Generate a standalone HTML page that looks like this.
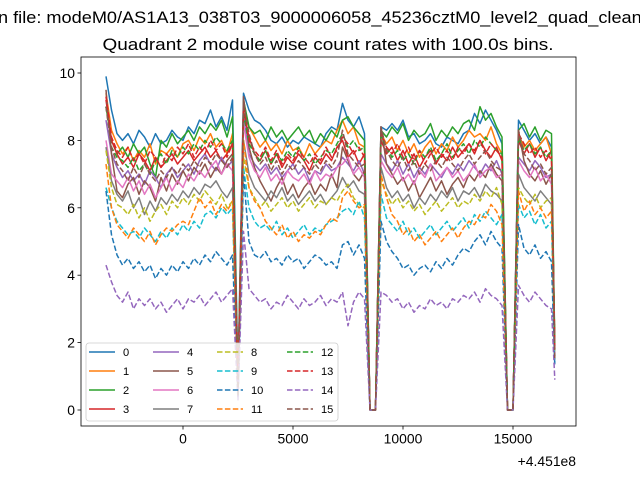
<!DOCTYPE html>
<html><head><meta charset="utf-8"><style>
html,body{margin:0;padding:0;background:#fff;}
svg{display:block;font-family:"Liberation Sans","DejaVu Sans",sans-serif;}
</style></head><body>
<svg id="chart" width="640" height="480" viewBox="0 0 640 480" xmlns="http://www.w3.org/2000/svg">
<rect width="640" height="480" fill="#fff"/>
<text x="-2" y="23" font-size="16.7" fill="#000" textLength="673" lengthAdjust="spacingAndGlyphs">n file: modeM0/AS1A13_038T03_9000006058_45236cztM0_level2_quad_clean.evt</text>
<text x="328" y="50" font-size="16.7" text-anchor="middle" fill="#000" textLength="451" lengthAdjust="spacingAndGlyphs">Quadrant 2 module wise count rates with 100.0s bins.</text>
<g id="plot"></g>
<g id="axes"></g>
<g id="legend"></g>
</svg>
<script>
const xTicks=[0,5000,10000,15000];
const xTickLabels=["0","5000","10000","15000"];
const yTicks=[0,2,4,6,8,10];
const yTickLabels=["0","2","4","6","8","10"];
const offsetLabel="+4.451e8";
const seriesNames=["0","1","2","3","4","5","6","7","8","9","10","11","12","13","14","15"];
const s0=[9.9,8.9,8.2,8.0,8.2,7.9,8.3,8.1,7.8,8.2,7.9,8.0,8.3,8.1,8.0,8.4,8.2,8.6,8.5,8.9,8.4,8.7,8.3,9.2,1.0,9.4,8.9,8.6,8.5,8.3,8.0,7.9,8.1,7.8,8.0,7.9,8.1,8.0,7.9,7.8,8.2,8.4,8.3,9.1,8.6,8.4,8.7,8.2,0,0,8.4,8.3,8.5,8.3,8.6,8.1,8.2,7.9,8.0,8.2,7.9,7.8,8.1,8.0,7.9,8.2,8.3,8.8,8.5,8.9,8.6,8.3,7.9,0,0,8.6,8.3,8.0,8.2,7.9,8.1,7.8,1.6];
const s1=[9.4,8.3,7.9,7.6,7.8,7.4,7.7,7.5,7.9,7.3,7.7,7.6,7.8,7.5,7.9,8.0,7.7,8.1,7.9,8.2,7.8,8.0,7.6,8.2,0.8,9.0,8.4,8.1,7.8,8.0,7.7,7.9,7.6,8.0,7.7,7.8,7.5,7.9,7.6,7.8,8.0,7.9,8.3,8.6,8.2,8.4,7.9,7.8,0,0,8.2,7.9,8.1,7.7,8.0,7.6,7.9,7.5,7.8,8.0,7.6,7.9,7.7,8.1,7.8,8.0,8.3,8.1,8.2,8.0,8.4,7.9,7.6,0,0,8.2,7.8,8.0,7.7,7.9,8.1,7.6,1.8];
const s2=[9.0,8.0,7.6,7.8,7.5,7.9,7.6,7.8,7.3,6.9,8.0,7.8,8.2,7.9,8.1,8.3,8.0,8.4,8.2,8.5,8.3,8.6,8.1,8.7,0.7,9.2,8.4,8.2,8.3,8.0,8.4,8.1,8.3,8.0,8.2,8.4,8.1,8.3,7.9,8.2,8.0,8.3,8.1,8.6,8.7,8.4,8.2,8.0,0,0,8.3,8.1,8.4,8.2,8.5,8.0,8.3,8.1,8.2,8.5,8.0,8.3,8.1,8.4,8.2,8.5,8.6,8.3,9.0,8.6,8.8,8.4,8.1,0,0,8.3,8.5,8.1,8.4,8.0,8.3,8.2,1.9];
const s3=[9.2,8.0,7.6,7.3,7.5,7.2,7.6,7.4,7.1,7.5,7.2,7.4,7.6,7.3,7.5,7.7,7.4,7.6,7.8,7.5,7.7,7.4,7.6,7.9,0.6,8.8,8.1,7.6,7.4,7.7,7.3,7.6,7.2,7.5,7.3,7.6,7.4,7.1,7.5,7.3,7.6,7.4,7.8,8.0,7.5,7.7,7.3,7.6,0,0,8.0,7.6,7.8,7.4,7.7,7.3,7.6,7.2,7.5,7.7,7.3,7.6,7.4,7.8,7.5,7.7,7.9,7.6,8.0,7.7,7.5,7.8,7.4,0,0,8.0,7.6,7.9,7.5,7.8,7.4,7.7,1.7];
const s4=[8.6,7.6,7.2,6.9,7.1,6.8,7.0,6.7,7.1,6.9,6.6,7.0,7.2,6.9,7.1,7.3,7.0,7.4,7.6,7.3,7.1,7.5,7.2,7.4,0.5,8.7,7.6,7.3,7.1,7.3,7.0,7.2,6.9,7.1,7.3,7.0,7.2,6.8,7.1,7.0,7.3,7.1,7.2,7.5,7.3,7.1,7.4,7.0,0,0,7.6,7.3,7.1,7.4,7.0,7.3,6.9,7.2,7.0,7.3,7.1,6.9,7.2,7.0,7.3,7.1,7.4,7.2,7.0,7.3,7.1,7.4,7.0,0,0,7.5,7.3,7.1,7.4,7.2,6.9,7.0,1.6];
const s5=[9.5,7.6,6.5,6.3,6.7,6.9,6.4,6.8,6.6,6.2,6.9,6.5,7.0,6.7,7.1,6.8,7.2,7.0,7.3,6.9,7.2,7.0,7.4,7.6,0.4,9.3,7.8,7.2,6.8,6.5,6.2,6.6,6.9,6.4,6.7,6.3,6.6,6.8,6.4,6.7,6.5,7.0,6.6,7.8,7.4,7.0,6.8,7.1,0,0,8.4,7.3,7.0,6.7,6.9,6.5,6.8,6.3,6.6,6.9,6.5,6.8,6.4,6.7,6.9,6.6,7.0,6.8,7.1,6.9,7.3,7.0,6.8,0,0,8.3,7.4,7.0,6.8,7.1,6.7,7.0,1.5];
const s6=[8.0,7.0,6.8,6.6,6.9,6.5,6.8,6.4,6.7,6.3,6.6,6.9,6.5,6.8,6.6,7.0,6.8,7.1,6.9,7.2,7.4,7.0,7.3,7.1,0.6,8.5,7.5,7.1,6.9,7.2,6.8,7.0,6.7,7.1,6.9,6.8,7.0,6.7,7.1,6.8,7.0,6.9,7.2,7.3,7.5,7.0,7.2,6.9,0,0,7.4,7.1,6.9,7.2,6.8,7.0,6.7,7.1,6.9,7.3,6.8,7.0,7.2,6.9,7.1,6.8,7.0,7.3,6.9,7.1,7.2,6.9,7.0,0,0,7.4,7.1,6.9,7.2,6.8,7.0,6.7,1.7];
const s7=[7.8,6.8,6.4,6.2,6.5,6.0,6.3,5.8,6.2,5.9,6.3,6.1,6.4,6.2,6.5,6.3,6.6,6.4,6.7,6.6,6.8,6.5,6.3,6.6,0.5,8.0,7.0,6.6,6.4,6.2,6.5,6.3,6.6,6.2,6.4,6.1,6.3,6.5,6.2,6.4,6.1,6.3,6.5,6.9,6.6,6.8,6.5,6.4,0,0,7.2,6.6,6.3,6.5,6.2,6.4,6.0,6.3,6.1,6.4,6.2,6.5,6.3,6.6,6.2,6.5,6.4,6.6,6.3,6.7,6.5,6.4,6.2,0,0,7.0,6.6,6.4,6.2,6.5,6.3,6.1,1.8];
const s8=[7.7,6.6,6.1,6.0,5.8,6.1,5.7,6.0,5.6,5.9,6.1,5.8,6.2,6.0,6.3,6.1,6.4,6.2,6.5,6.3,6.1,6.4,6.0,6.2,0.5,7.5,6.6,6.3,6.0,6.2,5.9,6.1,6.3,6.0,6.2,5.9,6.1,6.3,6.0,6.2,6.1,6.3,6.2,6.5,6.7,6.3,6.1,6.0,0,0,6.8,6.4,6.1,6.3,6.0,6.2,5.9,6.1,5.8,6.0,6.2,5.9,6.1,6.3,6.0,6.2,6.1,6.4,6.2,6.5,6.3,6.6,6.1,0,0,6.6,6.3,6.1,6.4,6.0,6.2,6.3,1.6];
const s9=[6.6,6.0,5.6,5.4,5.2,5.3,5.1,5.4,5.2,5.0,5.3,5.1,5.4,5.2,5.5,5.3,5.6,5.4,5.8,5.9,5.7,6.0,5.8,6.0,0.4,7.2,6.0,5.6,5.4,5.5,5.3,5.6,5.2,5.4,5.1,5.3,5.5,5.2,5.4,5.3,5.5,5.6,5.7,5.9,6.0,5.8,6.2,5.7,0,0,6.4,5.7,5.5,5.3,5.6,5.2,5.4,5.1,5.3,5.5,5.2,5.4,5.6,5.3,5.5,5.7,5.4,5.8,5.6,5.9,5.7,5.5,5.8,0,0,6.1,5.7,5.9,5.5,5.8,5.4,5.6,1.4];
const s10=[6.5,5.2,4.6,4.3,4.5,4.2,4.4,4.1,4.3,3.9,4.2,4.0,4.3,4.1,4.4,4.2,4.5,4.3,4.6,4.4,4.7,4.5,4.3,4.6,0.4,7.0,5.0,4.6,4.5,4.7,4.4,4.5,4.3,4.6,4.4,4.5,4.2,4.4,4.6,4.5,4.3,4.4,4.2,4.9,5.0,4.6,4.9,4.5,0,0,5.6,5.0,4.7,4.5,4.2,4.3,4.0,4.2,4.3,4.1,4.4,4.2,4.5,4.3,4.6,4.8,4.7,5.0,5.2,4.9,5.3,5.0,4.8,0,0,5.5,4.8,4.6,4.9,4.5,4.7,4.4,1.3];
const s11=[7.3,6.0,5.5,5.3,5.1,5.4,5.2,5.0,5.3,4.9,5.2,5.4,5.3,5.5,5.6,5.5,5.9,6.3,6.0,6.2,5.8,6.1,5.9,6.2,0.5,8.0,6.6,6.2,6.0,5.6,5.4,5.2,5.5,5.1,5.3,5.0,5.2,5.1,5.3,5.2,5.5,5.7,5.6,6.3,6.5,6.2,6.0,6.1,0,0,7.0,6.3,5.8,5.6,5.2,5.4,5.0,5.2,4.9,5.1,5.3,5.0,5.2,5.4,5.1,5.4,5.6,5.5,5.8,5.7,6.1,5.9,5.5,0,0,6.5,5.9,6.2,5.8,6.0,5.7,5.9,1.9];
const s12=[9.0,7.8,7.5,7.4,7.2,7.5,7.1,7.3,7.0,7.4,7.6,7.3,7.7,7.5,7.8,7.6,7.9,7.7,8.0,7.8,8.1,7.9,7.7,8.0,0.6,8.8,7.9,7.6,7.4,7.7,7.3,7.6,7.4,7.7,7.5,7.8,7.4,7.6,7.3,7.5,7.7,7.6,7.9,8.2,7.8,8.0,7.7,7.8,0,0,8.1,7.8,7.5,7.7,7.4,7.6,7.3,7.7,7.5,7.8,7.4,7.6,7.9,7.5,7.7,7.9,7.6,8.0,7.8,8.1,7.9,7.7,7.6,0,0,8.1,7.7,7.9,7.6,7.8,7.5,7.7,1.8];
const s13=[9.3,8.1,7.7,7.5,7.8,7.4,7.6,7.3,7.7,7.5,7.2,7.6,7.4,7.8,7.6,7.9,7.5,7.8,7.6,8.0,7.7,7.9,7.5,7.9,0.5,9.0,8.0,7.7,7.5,7.8,7.4,7.7,7.3,7.6,7.4,7.7,7.5,7.3,7.6,7.4,7.8,7.5,7.7,8.1,7.9,7.6,7.8,7.5,0,0,8.2,7.8,7.6,7.9,7.5,7.8,7.4,7.7,7.3,7.6,7.8,7.5,7.7,7.4,7.8,7.6,7.9,7.7,8.0,7.6,7.9,7.7,7.5,0,0,8.2,7.9,7.6,7.8,7.5,7.7,7.4,1.8];
const s14=[4.3,3.8,3.4,3.2,3.5,3.0,3.3,3.1,3.3,3.0,3.2,2.9,3.1,3.3,3.0,3.3,3.2,3.4,3.1,3.3,3.5,3.2,3.4,3.6,0.3,5.3,3.6,3.4,3.2,3.3,3.0,3.2,3.1,3.4,3.2,3.0,3.3,3.1,3.2,3.4,3.1,3.3,3.2,3.5,2.5,3.2,3.5,3.3,0,0,3.5,3.4,3.2,3.3,3.0,3.2,2.9,3.1,3.0,3.3,3.1,3.2,3.0,3.3,3.2,3.4,3.3,3.5,3.2,3.6,3.4,3.3,3.1,0,0,3.7,3.4,3.2,3.5,3.3,3.1,3.0,0.9];
const s15=[9.0,7.8,7.3,7.1,6.8,7.2,6.9,7.3,7.0,6.8,7.1,6.9,7.2,7.0,7.3,7.1,7.4,7.2,7.5,7.3,7.6,7.4,7.2,7.5,0.4,9.1,8.2,7.6,7.3,7.5,7.1,7.4,7.0,7.3,7.1,7.4,7.2,7.0,7.3,7.1,7.4,7.2,7.5,8.3,7.6,7.4,7.2,7.3,0,0,8.4,7.7,7.4,7.2,7.5,7.1,7.4,7.0,7.3,7.1,7.4,7.2,7.5,7.3,7.1,7.4,7.6,7.3,7.5,7.7,7.4,7.2,7.1,0,0,8.3,7.6,7.4,7.1,7.3,7.0,7.2,1.5];
const times=[];
for(let i=0;i<82;i++){times.push(-3500+250*i);}
times.push(16900);

const NS="http://www.w3.org/2000/svg";
const L=81,R=576,T=57,B=426;
function xs(t){return 183+t*0.022;}
function ys(v){return 410-v*33.7;}
const colors=["#1f77b4","#ff7f0e","#2ca02c","#d62728","#9467bd","#8c564b","#e377c2","#7f7f7f","#bcbd22","#17becf"];
const allSeries=[s0,s1,s2,s3,s4,s5,s6,s7,s8,s9,s10,s11,s12,s13,s14,s15];
function mk(tag,attrs,parent){const e=document.createElementNS(NS,tag);for(const k in attrs)e.setAttribute(k,attrs[k]);parent.appendChild(e);return e;}
const plot=document.getElementById('plot');
const axes=document.getElementById('axes');
const legend=document.getElementById('legend');
const defs=mk('defs',{},plot);
const cp=mk('clipPath',{id:'clip'},defs);
mk('rect',{x:L,y:T,width:R-L,height:B-T},cp);
const lg=mk('g',{'clip-path':'url(#clip)'},plot);
function styleOf(i){return {stroke:colors[i%10],dash:i>=8?"5.5,2.4":"none"};}
allSeries.forEach((s,i)=>{
  let d="";
  s.forEach((v,j)=>{d+=(j?"L":"M")+xs(times[j]).toFixed(2)+","+ys(v).toFixed(2);});
  const st=styleOf(i);
  const p=mk('path',{d:d,fill:'none',stroke:st.stroke,'stroke-width':1.5,'stroke-dasharray':st.dash,'stroke-linejoin':'round'},lg);
  
  
});
const frame=mk('rect',{x:L,y:T,width:R-L,height:B-T,fill:'none',stroke:'#000','stroke-width':0.8},axes);


xTicks.forEach((t,i)=>{
  const x=xs(t);
  mk('line',{x1:x,x2:x,y1:B,y2:B+3.5,stroke:'#000','stroke-width':0.8},axes);
  const tx=mk('text',{x:x,y:B+17.5,'font-size':13.9,'text-anchor':'middle',fill:'#000'},axes);
  tx.textContent=xTickLabels[i];
  
  
});
yTicks.forEach((v,i)=>{
  const y=ys(v);
  mk('line',{x1:L-3.5,x2:L,y1:y,y2:y,stroke:'#000','stroke-width':0.8},axes);
  const tx=mk('text',{x:L-6,y:y+5,'font-size':13.9,'text-anchor':'end',fill:'#000'},axes);
  tx.textContent=yTickLabels[i];
  
  
});
const off=mk('text',{x:R,y:B+40,'font-size':13.9,'text-anchor':'end',fill:'#000'},axes);
off.textContent=offsetLabel;


const box=mk('rect',{x:86,y:343,width:252,height:78,rx:3,fill:'#fff','fill-opacity':0.8,stroke:'#ccc','stroke-width':0.8},legend);


const colX=[89,153,217,287];
seriesNames.forEach((n,i)=>{
  const c=Math.floor(i/4),r=i%4;
  const y=352+r*19;
  const st=styleOf(i);
  const g=mk('g',{},legend);
  
  
  mk('line',{x1:colX[c],x2:colX[c]+26,y1:y,y2:y,stroke:st.stroke,'stroke-width':1.5,'stroke-dasharray':st.dash},g);
  const tx=mk('text',{x:colX[c]+34,y:y+4,'font-size':11.1,fill:'#000'},g);
  tx.textContent=n;
});
</script>
</body></html>
